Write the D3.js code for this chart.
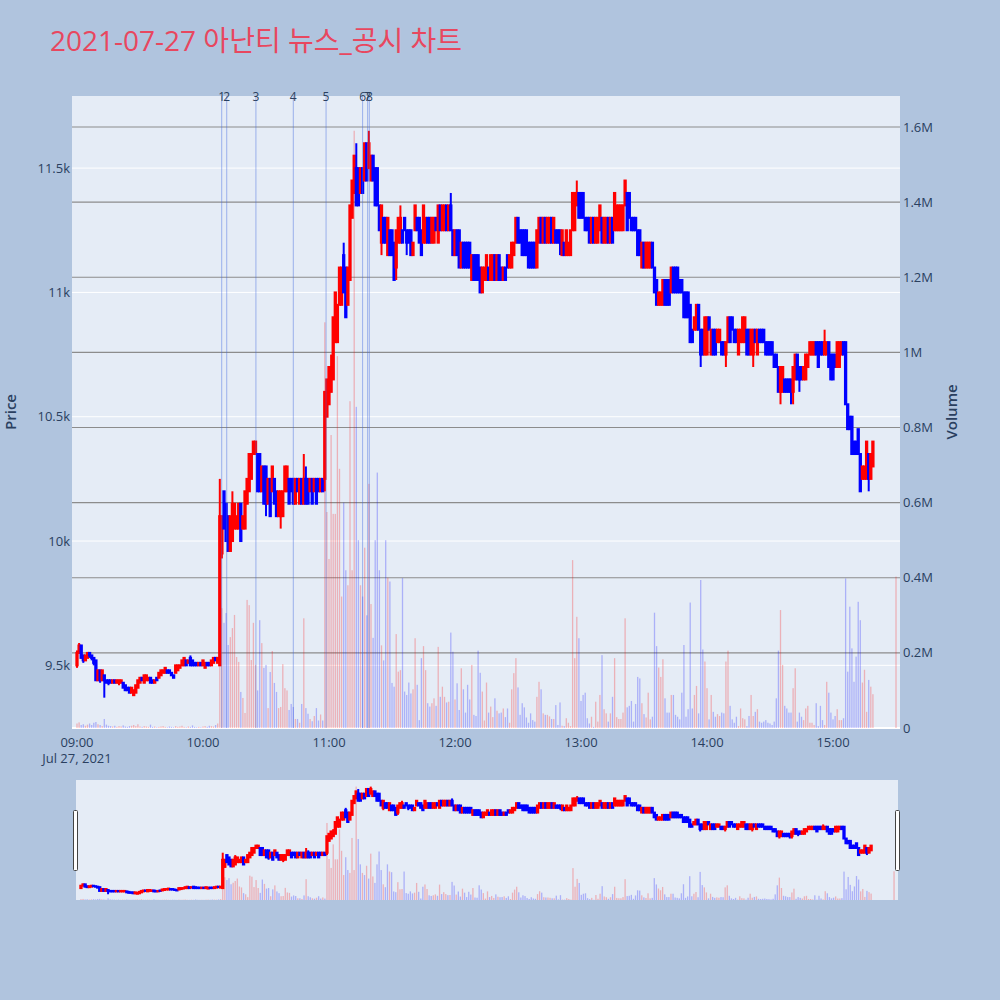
<!DOCTYPE html>
<html><head><meta charset="utf-8">
<script src="https://cdn.jsdelivr.net/npm/d3@7"></script>
<style>html,body{margin:0;padding:0;background:#b0c4de;} svg{display:block;}</style>
</head><body><svg id="chart" width="1000" height="1000"></svg>
<script>
// ---------- DATA ----------
const chartTitle = "2021-07-27 아난티 뉴스_공시 차트";
const tradeDate = [2021, 6, 27];
// minutes after 09:00 (continuous session 09:00-15:19, closing auction 15:30)
const minuteOffsets = d3.range(0, 380).concat([390]);
const opens = [
9500,9550,9580,9540,9520,9530,9550,9540,9530,9520,
9440,9480,9440,9460,9440,9440,9440,9430,9440,9430,
9430,9430,9430,9420,9410,9410,9390,9380,9390,9410,
9430,9450,9430,9440,9440,9450,9440,9430,9450,9450,
9460,9470,9470,9480,9480,9470,9460,9470,9480,9490,
9500,9500,9520,9510,9530,9520,9510,9510,9500,9510,
9500,9490,9510,9510,9500,9510,9530,9510,9500,9950,
10200,10150,10100,9960,10000,10050,10050,10050,10150,10050,
10050,10150,10200,10250,10350,10350,10350,10350,10200,10300,
10300,10150,10250,10200,10250,10200,10100,10100,10100,10200,
10200,10250,10250,10250,10150,10250,10150,10250,10150,10250,
10250,10200,10250,10200,10250,10250,10200,10250,10250,10500,
10550,10600,10650,10800,10800,10950,10950,11150,11100,10950,
11050,11300,11400,11500,11500,11400,11500,11450,11600,11500,
11450,11550,11500,11500,11350,11200,11300,11300,11150,11250,
11250,11200,11100,11200,11200,11250,11300,11250,11250,11250,
11150,11250,11300,11300,11250,11200,11200,11300,11300,11200,
11200,11300,11200,11350,11250,11250,11350,11250,11350,11250,
11150,11250,11250,11100,11200,11200,11200,11200,11050,11150,
11150,11150,11100,11000,11050,11050,11100,11050,11050,11150,
11050,11150,11100,11050,11100,11150,11100,11100,11150,11200,
11300,11250,11250,11250,11250,11200,11200,11200,11200,11100,
11200,11300,11200,11300,11200,11200,11300,11200,11250,11250,
11250,11150,11200,11150,11150,11150,11250,11250,11350,11400,
11400,11400,11300,11300,11300,11200,11300,11200,11200,11250,
11300,11200,11200,11300,11200,11300,11250,11250,11250,11250,
11250,11350,11400,11400,11300,11300,11300,11250,11250,11100,
11200,11100,11100,11100,11200,11100,11050,10950,10950,10950,
11050,11050,11050,11000,11100,11100,11100,11050,11050,11000,
11000,11000,10950,10850,10850,10850,10950,10850,10850,10750,
10750,10900,10750,10850,10850,10800,10800,10800,10800,10750,
10800,10900,10900,10850,10850,10750,10800,10800,10800,10850,
10850,10750,10750,10850,10750,10850,10850,10850,10800,10800,
10800,10800,10750,10750,10700,10600,10600,10650,10650,10650,
10650,10600,10650,10750,10700,10700,10650,10650,10700,10750,
10750,10750,10800,10800,10800,10800,10750,10750,10800,10750,
10750,10750,10700,10700,10750,10800,10800,10550,10500,10500,
10400,10400,10450,10350,10250,10250,10250,10350,10250,10300,
10400];
const highs = [
9560,9590,9580,9540,9540,9550,9550,9540,9530,9520,
9480,9480,9480,9460,9440,9440,9440,9440,9440,9440,
9440,9440,9430,9420,9410,9410,9410,9400,9420,9440,
9450,9450,9460,9460,9450,9450,9440,9440,9450,9470,
9480,9480,9490,9480,9480,9470,9460,9500,9500,9500,
9520,9530,9520,9520,9540,9520,9510,9510,9510,9510,
9520,9510,9510,9510,9520,9530,9530,9530,10250,10100,
10200,10150,10100,10100,10200,10150,10100,10150,10150,10100,
10200,10250,10350,10350,10400,10400,10350,10350,10300,10300,
10300,10250,10250,10300,10250,10200,10200,10200,10200,10300,
10300,10250,10250,10250,10250,10250,10250,10250,10350,10300,
10250,10250,10250,10250,10250,10250,10250,10250,10600,10650,
10700,10750,10900,11000,10950,11100,11100,11200,11100,11100,
11350,11450,11550,11600,11500,11500,11500,11600,11600,11650,
11550,11550,11500,11500,11350,11350,11300,11300,11300,11250,
11250,11200,11250,11300,11350,11250,11300,11250,11250,11250,
11200,11350,11300,11300,11250,11350,11300,11300,11300,11300,
11300,11300,11350,11350,11350,11350,11350,11350,11400,11250,
11250,11250,11250,11200,11200,11200,11200,11200,11150,11150,
11150,11150,11100,11100,11100,11150,11100,11150,11150,11150,
11150,11150,11100,11100,11100,11150,11150,11200,11200,11300,
11300,11250,11250,11250,11250,11200,11200,11200,11200,11250,
11300,11300,11300,11300,11300,11300,11300,11300,11250,11250,
11250,11250,11200,11250,11200,11250,11400,11400,11450,11400,
11400,11400,11300,11300,11300,11300,11300,11300,11300,11350,
11300,11300,11300,11300,11300,11300,11400,11350,11350,11350,
11350,11450,11400,11400,11300,11300,11300,11250,11250,11200,
11200,11200,11200,11200,11200,11100,11050,11000,11000,11050,
11050,11050,11050,11100,11100,11100,11100,11050,11050,11000,
11000,11000,10950,10850,10900,10950,10950,10850,10850,10900,
10900,10900,10850,10850,10850,10850,10850,10800,10800,10800,
10900,10900,10900,10850,10850,10850,10850,10900,10900,10850,
10850,10850,10850,10850,10850,10850,10850,10850,10800,10800,
10800,10800,10750,10750,10700,10700,10700,10650,10650,10650,
10650,10700,10750,10750,10700,10700,10700,10750,10750,10800,
10800,10800,10800,10800,10800,10800,10850,10800,10800,10750,
10750,10750,10800,10800,10800,10800,10800,10550,10500,10500,
10400,10400,10450,10350,10300,10300,10400,10350,10350,10400,
10400];
const lows = [
9490,9550,9530,9510,9520,9530,9530,9520,9500,9440,
9440,9430,9440,9370,9430,9420,9430,9430,9430,9430,
9420,9430,9410,9400,9400,9390,9390,9380,9390,9410,
9430,9440,9430,9440,9440,9430,9430,9430,9440,9450,
9460,9470,9470,9470,9470,9460,9450,9470,9480,9490,
9500,9500,9500,9510,9500,9500,9500,9500,9500,9500,
9500,9490,9500,9500,9500,9510,9520,9510,9500,9930,
10050,10000,9960,9960,10000,10050,10050,10050,10000,10050,
10050,10150,10200,10250,10350,10350,10200,10200,10200,10150,
10100,10150,10100,10200,10150,10100,10100,10050,10100,10200,
10200,10150,10200,10150,10150,10200,10150,10150,10150,10150,
10150,10200,10150,10200,10150,10200,10200,10200,10200,10500,
10550,10600,10650,10800,10800,10950,10950,11000,10900,10950,
11050,11300,11400,11350,11350,11400,11400,11450,11450,11500,
11450,11450,11350,11350,11250,11150,11200,11200,11150,11150,
11150,11050,11050,11200,11200,11200,11250,11150,11200,11150,
11150,11250,11250,11200,11150,11200,11200,11200,11200,11200,
11200,11250,11200,11250,11250,11250,11250,11250,11250,11150,
11150,11150,11100,11100,11100,11100,11100,11100,11050,11050,
11050,11050,11000,11000,11050,11050,11050,11050,11050,11050,
11050,11050,11050,11050,11050,11100,11100,11100,11150,11200,
11200,11200,11150,11150,11150,11100,11100,11100,11100,11100,
11200,11200,11200,11200,11200,11200,11200,11200,11200,11200,
11150,11150,11150,11150,11150,11150,11250,11250,11350,11300,
11300,11300,11250,11250,11200,11200,11200,11200,11200,11250,
11200,11200,11200,11200,11200,11200,11250,11250,11250,11250,
11250,11350,11250,11300,11250,11250,11250,11150,11150,11100,
11100,11100,11100,11100,11100,11000,10950,10950,10950,10950,
10950,10950,10950,11000,11000,11000,11000,11000,11000,10900,
10900,10900,10800,10800,10850,10850,10850,10700,10750,10750,
10750,10850,10750,10750,10750,10800,10800,10750,10750,10700,
10800,10800,10850,10800,10800,10750,10800,10800,10800,10750,
10750,10750,10700,10800,10750,10800,10800,10800,10750,10750,
10750,10750,10700,10700,10600,10550,10600,10600,10600,10600,
10550,10550,10650,10650,10600,10650,10650,10650,10700,10750,
10750,10750,10750,10700,10750,10750,10750,10750,10700,10650,
10650,10700,10700,10700,10750,10750,10550,10450,10450,10350,
10350,10350,10350,10200,10250,10250,10250,10200,10250,10300,
10400];
const closes = [
9550,9580,9530,9520,9540,9550,9540,9530,9510,9440,
9480,9440,9480,9440,9430,9430,9430,9440,9430,9440,
9440,9440,9410,9400,9400,9390,9410,9400,9420,9440,
9450,9440,9460,9460,9450,9430,9430,9440,9440,9470,
9480,9480,9490,9470,9470,9460,9450,9500,9500,9500,
9520,9530,9500,9520,9500,9500,9500,9500,9510,9500,
9520,9510,9500,9500,9520,9530,9520,9530,10100,10100,
10050,10000,9960,10100,10150,10150,10100,10150,10000,10100,
10200,10250,10350,10350,10400,10400,10200,10200,10300,10150,
10150,10250,10100,10300,10150,10100,10200,10200,10200,10300,
10300,10150,10200,10150,10250,10200,10250,10150,10250,10150,
10150,10250,10150,10250,10150,10200,10250,10200,10600,10650,
10700,10700,10900,11000,10950,11100,11100,11000,10900,11100,
11350,11450,11550,11350,11350,11500,11400,11600,11450,11600,
11550,11450,11350,11350,11250,11350,11200,11200,11300,11150,
11150,11050,11250,11300,11300,11200,11250,11200,11200,11150,
11200,11350,11250,11200,11150,11350,11300,11200,11200,11300,
11300,11250,11350,11250,11350,11350,11250,11350,11250,11150,
11250,11150,11100,11200,11100,11100,11100,11100,11150,11050,
11050,11050,11000,11100,11100,11150,11050,11150,11150,11050,
11150,11050,11050,11100,11050,11100,11150,11200,11200,11300,
11200,11200,11150,11150,11150,11100,11100,11100,11100,11250,
11300,11200,11300,11200,11300,11300,11200,11300,11200,11200,
11200,11250,11150,11250,11200,11250,11400,11400,11400,11300,
11300,11300,11250,11250,11200,11300,11200,11300,11300,11350,
11200,11300,11300,11200,11300,11200,11400,11350,11350,11350,
11350,11450,11250,11300,11250,11250,11250,11150,11150,11200,
11100,11200,11200,11200,11100,11000,10950,11000,11000,11050,
10950,10950,10950,11100,11000,11000,11000,11000,11000,10900,
10900,10900,10800,10800,10900,10950,10850,10750,10750,10900,
10900,10850,10850,10750,10750,10850,10850,10750,10750,10800,
10900,10800,10850,10800,10800,10850,10850,10900,10900,10750,
10750,10850,10850,10800,10850,10800,10800,10800,10750,10750,
10750,10750,10700,10700,10600,10700,10700,10600,10600,10600,
10600,10700,10750,10650,10650,10650,10700,10750,10750,10800,
10800,10800,10750,10700,10750,10750,10800,10800,10700,10650,
10650,10700,10800,10800,10800,10750,10550,10450,10450,10350,
10350,10350,10350,10200,10300,10300,10400,10250,10350,10400,
10400];
// volume in thousands of shares
const volumesK = [
12,15,8,10,6,9,12,8,14,16,
10,8,5,24,9,6,5,4,6,3,
5,4,7,4,3,5,6,8,5,10,
4,3,5,4,3,9,3,4,2,3,
4,5,3,2,4,3,2,5,3,4,
6,3,2,4,3,7,3,2,3,2,
4,5,3,6,5,4,8,12,360,319,
280,306,221,242,266,301,189,176,96,80,
40,341,327,181,280,168,100,287,226,160,
168,53,149,205,120,96,53,56,170,106,
100,48,64,56,24,24,14,64,292,53,
38,24,18,32,53,20,36,20,1080,575,
450,780,570,570,990,690,350,600,420,380,
870,420,1590,855,500,380,350,480,300,650,
330,240,500,680,420,220,180,500,400,390,
120,110,250,150,154,399,97,88,121,92,
103,239,115,21,186,218,154,66,57,66,
79,59,216,83,110,83,68,70,254,203,
76,119,48,159,103,41,115,76,168,35,
32,206,147,97,20,121,41,57,29,79,
46,39,41,52,29,52,14,103,146,186,
108,35,66,55,28,14,39,21,17,83,
123,103,39,35,35,31,24,24,61,8,
68,6,5,26,14,5,447,186,296,239,
72,88,94,26,12,30,3,70,17,88,
194,50,39,17,39,83,186,29,24,24,
41,292,55,59,72,17,64,136,132,66,
37,28,94,23,30,307,218,161,136,183,
79,41,41,88,88,35,30,23,94,221,
30,50,334,52,88,112,39,394,209,177,
106,23,88,43,30,37,32,41,39,177,
206,59,23,14,30,5,52,26,23,5,
32,88,32,43,50,17,14,17,21,14,
12,8,17,79,206,314,168,59,52,41,
41,106,159,17,41,30,21,52,59,14,
14,8,66,5,59,21,8,123,94,41,
23,32,50,21,21,26,398,150,323,212,
123,190,336,287,121,155,43,128,110,90,
403];
const newsTimes = ["10:08:54","10:11:18","10:25:12","10:43:00","10:58:36","11:16:00","11:18:24","11:19:12"];
const newsLabels = ["1","2","3","4","5","6","7","8"];
const priceTicks = [9500, 10000, 10500, 11000, 11500];
const priceTickLabels = ["9.5k","10k","10.5k","11k","11.5k"];
const volumeTicks = [0, 200000, 400000, 600000, 800000, 1000000, 1200000, 1400000, 1600000];
const volumeTickLabels = ["0","0.2M","0.4M","0.6M","0.8M","1M","1.2M","1.4M","1.6M"];
const timeTickLabels = ["09:00","10:00","11:00","12:00","13:00","14:00","15:00"];

// ---------- BUILD ----------
const t0 = new Date(tradeDate[0], tradeDate[1], tradeDate[2], 9, 0, 0);
const atMin = m => new Date(t0.getTime() + m * 60000);
const candles = minuteOffsets.map((m, i) => ({
  t: atMin(m), open: opens[i], high: Math.max(highs[i], opens[i], closes[i]),
  low: Math.min(lows[i], opens[i], closes[i]), close: closes[i], vol: volumesK[i] * 1000
}));
const parseHMS = s => { const [h, mi, se] = s.split(":").map(Number); return new Date(tradeDate[0], tradeDate[1], tradeDate[2], h, mi, se); };

const svg = d3.select("#chart");
const W = 1000, H = 1000;
const P = {l: 72, r: 900, t: 96, b: 728};
const xDomain = [atMin(-2.38), atMin(391.9)];
const x = d3.scaleTime().domain(xDomain).range([P.l, P.r]);
const y = d3.scaleLinear().domain([9248, 11790]).range([P.b, P.t]);
const yv = d3.scaleLinear().domain([0, 1682500]).range([P.b, P.t]);
const FONT = "'Open Sans', 'Noto Sans CJK KR', sans-serif";
const TXT = "#2a3f5f";
const UP = "#ff0000", DOWN = "#0000ff";
const colOf = d => d.close >= d.open ? UP : DOWN;

svg.append("rect").attr("width", W).attr("height", H).attr("fill", "#b0c4de");

// title
svg.append("text").attr("x", 50).attr("y", 51).attr("font-family", FONT)
  .attr("font-size", 28).attr("fill", "#e8475f").text(chartTitle);

// plot bg
svg.append("rect").attr("x", P.l).attr("y", P.t).attr("width", P.r - P.l).attr("height", P.b - P.t).attr("fill", "#e5ecf6");

svg.append("clipPath").attr("id", "plotclip").append("rect")
  .attr("x", P.l).attr("y", P.t).attr("width", P.r - P.l).attr("height", P.b - P.t);

// price grid (white)
svg.append("g").selectAll("line").data(priceTicks).join("line")
  .attr("x1", P.l).attr("x2", P.r).attr("y1", d => y(d)).attr("y2", d => y(d))
  .attr("stroke", "#ffffff").attr("stroke-width", 1);
// volume grid (grey)
svg.append("g").selectAll("line").data(volumeTicks.slice(1)).join("line")
  .attr("x1", P.l).attr("x2", P.r).attr("y1", d => yv(d)).attr("y2", d => yv(d))
  .attr("stroke", "#8c8c8c").attr("stroke-width", 1.2);
// zero line
svg.append("line").attr("x1", P.l).attr("x2", P.r).attr("y1", yv(0)).attr("y2", yv(0))
  .attr("stroke", "#ffffff").attr("stroke-width", 2);

function drawCandles(g, xs, ys, bodyW, lw) {
  const cg = g.selectAll("g.cd").data(candles).join("g").attr("class", "cd");
  cg.append("line")
    .attr("x1", d => xs(d.t)).attr("x2", d => xs(d.t))
    .attr("y1", d => ys(d.high)).attr("y2", d => ys(d.low))
    .attr("stroke", colOf).attr("stroke-width", lw);
  cg.append("rect")
    .attr("x", d => xs(d.t) - bodyW / 2).attr("width", bodyW)
    .attr("y", d => ys(Math.max(d.open, d.close)))
    .attr("height", d => ys(Math.min(d.open, d.close)) - ys(Math.max(d.open, d.close)))
    .attr("fill", colOf).attr("stroke", colOf).attr("stroke-width", lw);
}
function drawVolume(g, xs, ys, bw) {
  g.selectAll("rect").data(candles).join("rect")
    .attr("x", d => xs(d.t) - bw / 2).attr("width", bw)
    .attr("y", d => ys(d.vol)).attr("height", d => ys(0) - ys(d.vol))
    .attr("fill", d => d.close >= d.open ? "rgba(255,0,0,0.25)" : "rgba(0,0,255,0.25)");
}

const main = svg.append("g").attr("clip-path", "url(#plotclip)");
drawCandles(main.append("g"), x, y, 1.3, 2);
drawVolume(main.append("g"), x, yv, 1.3);

// news markers
const newsG = svg.append("g");
newsTimes.forEach((s) => {
  const nx = x(parseHMS(s));
  newsG.append("line").attr("x1", nx).attr("x2", nx).attr("y1", P.t).attr("y2", P.b)
    .attr("stroke", "rgba(65,105,225,0.45)").attr("stroke-width", 1);
});
newsTimes.forEach((s, i) => {
  const nx = x(parseHMS(s));
  newsG.append("text").attr("x", nx).attr("y", 101).attr("text-anchor", "middle")
    .attr("font-family", FONT).attr("font-size", 12).attr("fill", TXT).text(newsLabels[i]);
});

// axes text
const axG = svg.append("g").attr("font-family", FONT).attr("font-size", 13).attr("fill", TXT);
priceTicks.forEach((v, i) => {
  axG.append("text").attr("x", 70).attr("y", y(v)).attr("dy", "0.35em").attr("text-anchor", "end").text(priceTickLabels[i]);
});
volumeTicks.forEach((v, i) => {
  axG.append("text").attr("x", 903).attr("y", yv(v)).attr("dy", "0.35em").attr("text-anchor", "start").text(volumeTickLabels[i]);
});
timeTickLabels.forEach((lab, i) => {
  const tx = x(atMin(i * 60));
  axG.append("text").attr("x", tx).attr("y", 747).attr("text-anchor", "middle").text(lab);
});
axG.append("text").attr("x", x(atMin(0))).attr("y", 763).attr("text-anchor", "middle")
  .text(d3.timeFormat("%b %-d, %Y")(t0));

svg.append("text").attr("transform", `translate(16,${(P.t + P.b) / 2}) rotate(-90)`)
  .attr("text-anchor", "middle").attr("font-family", FONT).attr("font-size", 15).attr("font-weight", 600)
  .attr("fill", TXT).text("Price");
svg.append("text").attr("transform", `translate(957,${(P.t + P.b) / 2}) rotate(-90)`)
  .attr("text-anchor", "middle").attr("font-family", FONT).attr("font-size", 15).attr("font-weight", 600)
  .attr("fill", TXT).text("Volume");

// ---------- RANGE SLIDER ----------
const S = {l: 76, r: 898, t: 780, b: 900};
const xs = d3.scaleTime().domain(xDomain).range([S.l, S.r]);
const ys = d3.scaleLinear().domain(y.domain()).range([S.b, S.t]);
const yvs = d3.scaleLinear().domain(yv.domain()).range([S.b, S.t]);
svg.append("rect").attr("x", S.l).attr("y", S.t).attr("width", S.r - S.l).attr("height", S.b - S.t).attr("fill", "#e5ecf6");
svg.append("clipPath").attr("id", "slclip").append("rect")
  .attr("x", S.l).attr("y", S.t).attr("width", S.r - S.l).attr("height", S.b - S.t);
const sl = svg.append("g").attr("clip-path", "url(#slclip)");
drawCandles(sl.append("g"), xs, ys, 1.3, 2);
drawVolume(sl.append("g"), xs, yvs, 1.3);
[S.l - 2, S.r - 2].forEach(hx => {
  svg.append("rect").attr("x", hx - 0.5).attr("y", 810.5).attr("width", 4).attr("height", 60)
    .attr("fill", "#ffffff").attr("stroke", "#444").attr("stroke-width", 1).attr("rx", 1);
});
</script></body></html>
